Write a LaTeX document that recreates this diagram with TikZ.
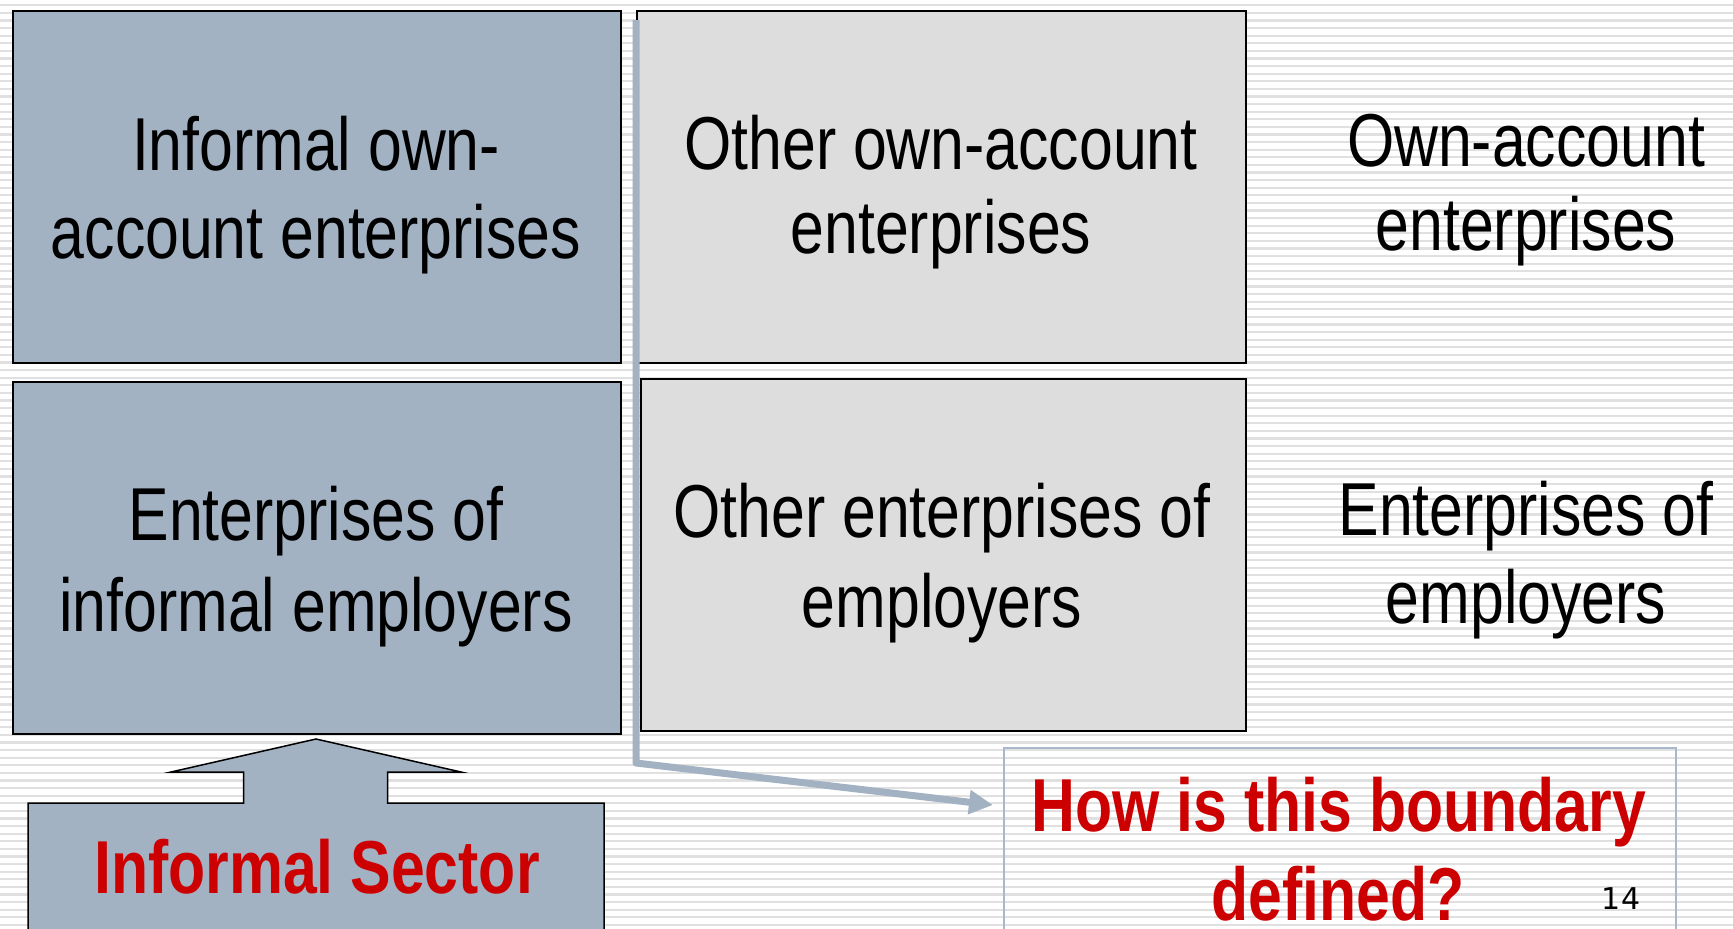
\documentclass[tikz,border=0pt]{standalone}
\usepackage{fontspec}
\newfontfamily\narrowsans[FakeStretch=0.81]{Liberation Sans}
\newfontfamily\digitsans{DejaVu Sans}
\usetikzlibrary{arrows.meta}
\definecolor{slate}{HTML}{A3B2C2}
\definecolor{lightbox}{HTML}{DDDDDD}
\definecolor{redtext}{HTML}{CC0000}
\definecolor{stripe}{HTML}{E0E0E0}
\definecolor{qborder}{HTML}{A9B8CB}
\begin{document}
\begin{tikzpicture}[x=1pt,y=-1pt,
  cell/.style={draw=black,line width=2pt,inner sep=0pt,anchor=north west,minimum height=352pt},
  darkcell/.style={cell,fill=slate},
  lightcell/.style={cell,fill=lightbox},
  txt/.style={font=\narrowsans\fontsize{75}{88}\selectfont,anchor=base,inner sep=0pt},
  redtxt/.style={font=\narrowsans\bfseries\fontsize{75}{88}\selectfont,text=redtext,anchor=base,inner sep=0pt},
  link/.style={draw=slate,line width=7pt,line join=round,-{Triangle[length=24pt,width=23pt]}},
]
\useasboundingbox (0,0) rectangle (1733,929);
\clip (0,0) rectangle (1733,929);
\fill[white] (0,0) rectangle (1733,929);
\foreach \i in {0,...,122}{
  \draw[stripe,line width=2.2pt] (0,5.3+7.6*\i) -- (1733,5.3+7.6*\i);
}
% cells
\node[darkcell,minimum width=608pt] (tl) at (12,10) {};
\node[darkcell,minimum width=608pt] (bl) at (12,381) {};
\node[lightcell,minimum width=609pt] (tm) at (636,10) {};
\node[lightcell,minimum width=605pt] (bm) at (640,378) {};
% question box
\node[draw=qborder,line width=1.5pt,inner sep=0pt,anchor=north west,minimum width=672pt,minimum height=220pt] (q) at (1003,747) {};
% connector
\coordinate (cstart) at (636,20);
\coordinate (cend) at (993,805);
\draw[link] (cstart) -- (636,763) -- (cend);
% informal sector shape
\draw[fill=slate,draw=black,line width=1.5pt,line join=miter]
  (28,960) -- (28,803) -- (243.6,803) -- (243.6,772) -- (171,772) -- (316,739)
  -- (461,772) -- (387.5,772) -- (387.5,803) -- (604,803) -- (604,960);
% texts
\node[txt] (tl1) at (316,170) {Informal own-};
\node[txt] (tl2) at (316,258) {account enterprises};
\node[txt] (bl1) at (316,540) {Enterprises of};
\node[txt] (bl2) at (316,631) {informal employers};
\node[txt] (tm1) at (941,169) {Other own-account};
\node[txt] (tm2) at (941,253) {enterprises};
\node[txt] (bm1) at (942,537) {Other enterprises of};
\node[txt] (bm2) at (942,627) {employers};
\node[txt] (r1) at (1526,166) {Own-account};
\node[txt] (r2) at (1526,250) {enterprises};
\node[txt] (r3) at (1526,535) {Enterprises of};
\node[txt] (r4) at (1526,623) {employers};
\node[redtxt] (is) at (317,893) {Informal Sector};
\node[redtxt] (q1) at (1339,831) {How is this boundary};
\node[redtxt] (q2) at (1338,920) {defined?};
\node[font=\digitsans\fontsize{30}{36}\selectfont,anchor=base,inner sep=0pt] (pg) at (1621,909) {14};
\end{tikzpicture}
\end{document}
